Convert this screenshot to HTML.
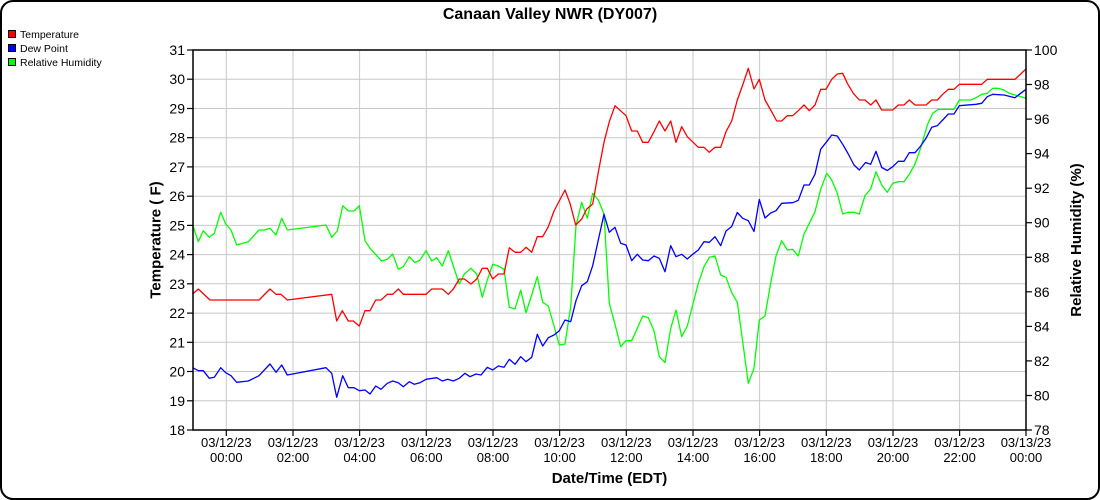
<!DOCTYPE html>
<html>
<head>
<meta charset="utf-8">
<style>
html,body{margin:0;padding:0;background:#fff;}
svg{display:block;}
text{font-family:"Liberation Sans",Arial,sans-serif;fill:#000;}
</style>
</head>
<body>
<svg width="1100" height="500" viewBox="0 0 1100 500" xmlns="http://www.w3.org/2000/svg">
<rect x="1" y="1" width="1098" height="498" rx="12" ry="12" fill="#fff" stroke="#000" stroke-width="2"/>

<text x="550" y="19" font-size="16" font-weight="bold" text-anchor="middle">Canaan Valley NWR (DY007)</text>

<!-- legend -->
<rect x="8.5" y="30.5" width="7" height="7" fill="#ff0000" stroke="#000" stroke-width="1"/>
<text x="20" y="38" font-size="10.5">Temperature</text>
<rect x="8.5" y="44.5" width="7" height="7" fill="#0000ff" stroke="#000" stroke-width="1"/>
<text x="20" y="52" font-size="10.5">Dew Point</text>
<rect x="8.5" y="58.5" width="7" height="7" fill="#00ff00" stroke="#000" stroke-width="1"/>
<text x="20" y="66" font-size="10.5">Relative Humidity</text>

<!-- grid -->
<g stroke="#c8c8c8" stroke-width="1">
<line x1="193" y1="79.2" x2="1026" y2="79.2"/>
<line x1="193" y1="108.5" x2="1026" y2="108.5"/>
<line x1="193" y1="137.7" x2="1026" y2="137.7"/>
<line x1="193" y1="166.9" x2="1026" y2="166.9"/>
<line x1="193" y1="196.2" x2="1026" y2="196.2"/>
<line x1="193" y1="225.4" x2="1026" y2="225.4"/>
<line x1="193" y1="254.6" x2="1026" y2="254.6"/>
<line x1="193" y1="283.8" x2="1026" y2="283.8"/>
<line x1="193" y1="313.1" x2="1026" y2="313.1"/>
<line x1="193" y1="342.3" x2="1026" y2="342.3"/>
<line x1="193" y1="371.5" x2="1026" y2="371.5"/>
<line x1="193" y1="400.8" x2="1026" y2="400.8"/>
<line x1="226.3" y1="50" x2="226.3" y2="430"/>
<line x1="293" y1="50" x2="293" y2="430"/>
<line x1="359.6" y1="50" x2="359.6" y2="430"/>
<line x1="426.3" y1="50" x2="426.3" y2="430"/>
<line x1="493" y1="50" x2="493" y2="430"/>
<line x1="559.6" y1="50" x2="559.6" y2="430"/>
<line x1="626.3" y1="50" x2="626.3" y2="430"/>
<line x1="693" y1="50" x2="693" y2="430"/>
<line x1="759.6" y1="50" x2="759.6" y2="430"/>
<line x1="826.3" y1="50" x2="826.3" y2="430"/>
<line x1="893" y1="50" x2="893" y2="430"/>
<line x1="959.6" y1="50" x2="959.6" y2="430"/>
</g>

<!-- series -->
<g fill="none" stroke-width="1.3" stroke-linejoin="round">
<polyline stroke="#00ff00" points="192.7,225 198.3,241.7 203.3,230.7 209.3,237.3 214.3,233.3 220.7,212.3 225.7,224 231,230 236.7,245 248.3,241.7 259,230 264.3,230 270,228.3 276,235 281.7,218.3 287.3,230 326,225 331.7,237.3 337.3,231 342.7,205.7 348.3,211 354,211 359.3,205.7 365,240.7 370,248.3 381.7,261 387.3,259.3 392.7,254 398.3,269.3 403.3,266.7 409.3,256.7 415,262.7 420,260 426,250.7 431.7,261 436.7,257.7 442.3,266 448.3,250.7 453.3,266 459.3,284 464.3,274 471,268.3 476.7,274 482.3,297.3 487.3,280 492.7,264.3 498.3,266 504,269.3 509.3,307.3 515,309 520.7,290 526,312.7 531.7,295 537.3,276.7 542.7,302.3 548.3,306 554,326 559.3,345 565,344 570.7,306.7 576,225.7 581.7,202.3 587.3,218.3 592.7,193.3 598.3,200 604,214 609.3,303.3 615,324.3 620.7,346.7 626,340.7 631.7,340.7 637.3,328.3 642.7,316 648.3,317.7 654,330.7 659.3,356.7 665,362.7 670.7,328.3 676,310 681.7,336.7 687.3,326 692.7,305 698.3,283.3 704,266.7 709.3,257.3 715,256 720.7,275 726,277.3 731.7,292.7 737.3,302.3 742.7,341.7 748.3,383.3 754,368.3 759.3,320 765,316 770.7,283 776,256 781.7,240.7 787.3,250 792.7,249.3 798.3,256 804,234 809.3,223.3 815,211.7 820.7,189.3 826.7,173.3 831.7,180 837.3,193.3 842.7,214 848.3,212.3 854,212.3 859.3,214 865,195.7 870.7,189 876,171.7 881.7,185 887.3,192.3 892.7,183.3 898.3,181.7 904,181.7 909.3,174.3 915,164 920.7,148 927.3,125 932.7,113.3 938.3,109.3 954,109.3 959.3,100 970.7,100 976,97.7 981.7,94.3 987.3,93.3 992.7,88.3 998.3,88.3 1004,90 1009.3,93.3 1015,95 1026,98.3"/>
<polyline stroke="#0000ff" points="192.7,367.7 198.3,370.7 203.3,370.7 209.3,378.3 214.3,377.3 220.7,367.7 225.7,372.7 231,375.7 236.7,382.3 248.3,381 259,375.7 270,364 276,372.3 281.7,365 287.3,375 326,367.7 331.7,373.3 336.7,397.3 342.7,375.7 348.3,387.7 354,387.7 359.3,390.7 365,390 370,394 375.7,386 381,389.3 387.3,383.3 392.7,381 398.3,382.7 403.3,386.7 409.3,381.7 414.3,384.3 420,382.7 426,379.3 436.7,377.7 442.3,381 447.7,379.3 453.3,381 459.3,378.3 465,373.3 470,376.7 476,374 481,375 487.3,367.3 492.7,370 498.3,366 504,367.3 509.3,359.3 515,364.3 520.7,356.7 526,361.7 531.7,357.3 537.3,334.3 542.7,346 548.3,337.7 554,335 559.3,330.7 565,320 570.7,321.7 576,300.7 581.7,285.7 587.3,281.7 592.7,265.7 598.3,240 604,214.3 609.3,232.3 615,227.3 620.7,243.3 626,245 631.7,260.7 637.3,254.3 642.7,260 648.3,260.7 654,256 659.3,258.3 665,271.7 670.7,245.7 676,256.7 681.7,254.3 687.3,259 692.7,254.3 698.3,250 704,241.7 709.3,242.3 715,236.7 720.7,245.7 726,231 731.7,226.5 737.3,212.5 742.7,218.3 748.3,220.7 754,231.5 759.3,199.5 765,218 770.7,213 776,210.7 781.7,203.3 792.7,202.7 798.3,200.3 804,185 809.3,185 815,174.2 820.7,149.2 826.7,141.7 831.7,135 837.3,136 842.7,144.3 848.3,154 854,165 859.3,170 865.5,162.5 870.7,164.2 876,151.3 881.7,167.5 887.3,170.5 892.7,166.7 898.3,161.3 904,161.3 909.3,152.7 915,152.7 920.7,146 926,138.3 931.7,127.3 937.3,125.7 942.7,120 948.3,114 954,114 959.3,105.7 976,104.3 981.7,103.3 987.3,96.7 992.7,94.3 1004,95 1015,97.7 1020.7,93.3 1026,89.3"/>
<polyline stroke="#ff0000" points="192.7,294 198.3,289 210,300 259,300 270,289 276,294.3 281,294.3 287.3,300 331.7,294.3 336.7,321 342.3,310.7 348.3,321 353.3,321 359.3,326 365,310.7 370,310.7 375.7,300 381,300 387.3,294.3 392.7,294.3 398.3,289 403.3,294.3 426,294.3 431.7,289 442.3,289 448.3,294.3 453.3,289 459.3,279 464.3,279 471,284 476.7,279 482.3,268.3 487.3,268.3 492.7,279 498.3,274 504,274 509.3,247.7 515,252.3 520.7,252.3 526,247.3 531.7,252.3 537.3,236.7 542.7,236.7 548.3,226.7 554,211 565,190 570,203.3 575.7,225 581.7,219 586.7,209 592.7,204 598.3,172.3 604,142.3 609.3,121.7 615,105.7 626,115.7 631.7,131 637.3,131 642.7,142.3 648.3,142.3 654,131.7 659.3,121 665,131 670.7,121 676,142.3 681.7,126.7 687.3,136.7 698.3,147.3 704,147.3 709.3,152.3 715,147.3 720.7,147.3 726,131.7 731.7,121 737.3,100 742.7,85 748.3,68.3 754,89 759.3,79.3 765,100 770.7,110 776.7,121 781.7,121 787.3,115.7 792.7,115.7 798.3,110.7 804,105 809.3,110.7 815,105 820.7,89.3 826,89.3 831.7,79.3 837.3,74 842.7,73.3 847.3,83.3 853.3,93.3 859.3,100 865,100 870.7,105 876,100 881.7,110 892.7,110 898.3,105 904,105 909.3,100 915,105 926,105 931.7,100 937.3,100 942.7,94.3 948.3,89.3 954,89.3 959.3,84.3 981.7,84.3 987.3,79.3 1015,79.3 1026,69"/>
</g>

<!-- axes box -->
<rect x="193" y="50" width="833" height="380" fill="none" stroke="#000" stroke-width="1.5"/>

<!-- left ticks -->
<g stroke="#000" stroke-width="1.2">
<line x1="187" y1="50" x2="193" y2="50"/>
<line x1="187" y1="79.2" x2="193" y2="79.2"/>
<line x1="187" y1="108.5" x2="193" y2="108.5"/>
<line x1="187" y1="137.7" x2="193" y2="137.7"/>
<line x1="187" y1="166.9" x2="193" y2="166.9"/>
<line x1="187" y1="196.2" x2="193" y2="196.2"/>
<line x1="187" y1="225.4" x2="193" y2="225.4"/>
<line x1="187" y1="254.6" x2="193" y2="254.6"/>
<line x1="187" y1="283.8" x2="193" y2="283.8"/>
<line x1="187" y1="313.1" x2="193" y2="313.1"/>
<line x1="187" y1="342.3" x2="193" y2="342.3"/>
<line x1="187" y1="371.5" x2="193" y2="371.5"/>
<line x1="187" y1="400.8" x2="193" y2="400.8"/>
<line x1="187" y1="430" x2="193" y2="430"/>
</g>
<g font-size="14" text-anchor="end">
<text x="185" y="55">31</text>
<text x="185" y="84.2">30</text>
<text x="185" y="113.5">29</text>
<text x="185" y="142.7">28</text>
<text x="185" y="171.9">27</text>
<text x="185" y="201.2">26</text>
<text x="185" y="230.4">25</text>
<text x="185" y="259.6">24</text>
<text x="185" y="288.8">23</text>
<text x="185" y="318.1">22</text>
<text x="185" y="347.3">21</text>
<text x="185" y="376.5">20</text>
<text x="185" y="405.8">19</text>
<text x="185" y="435">18</text>
</g>

<!-- right ticks -->
<g stroke="#000" stroke-width="1.2">
<line x1="1026" y1="50" x2="1032" y2="50"/>
<line x1="1026" y1="84.5" x2="1032" y2="84.5"/>
<line x1="1026" y1="119.1" x2="1032" y2="119.1"/>
<line x1="1026" y1="153.6" x2="1032" y2="153.6"/>
<line x1="1026" y1="188.2" x2="1032" y2="188.2"/>
<line x1="1026" y1="222.7" x2="1032" y2="222.7"/>
<line x1="1026" y1="257.3" x2="1032" y2="257.3"/>
<line x1="1026" y1="291.8" x2="1032" y2="291.8"/>
<line x1="1026" y1="326.4" x2="1032" y2="326.4"/>
<line x1="1026" y1="360.9" x2="1032" y2="360.9"/>
<line x1="1026" y1="395.5" x2="1032" y2="395.5"/>
<line x1="1026" y1="430" x2="1032" y2="430"/>
</g>
<g font-size="14" text-anchor="start">
<text x="1034" y="55">100</text>
<text x="1034" y="89.5">98</text>
<text x="1034" y="124.1">96</text>
<text x="1034" y="158.6">94</text>
<text x="1034" y="193.2">92</text>
<text x="1034" y="227.7">90</text>
<text x="1034" y="262.3">88</text>
<text x="1034" y="296.8">86</text>
<text x="1034" y="331.4">84</text>
<text x="1034" y="365.9">82</text>
<text x="1034" y="400.5">80</text>
<text x="1034" y="435">78</text>
</g>

<!-- x ticks -->
<g stroke="#000" stroke-width="1.2">
<line x1="226.3" y1="430" x2="226.3" y2="436"/>
<line x1="293" y1="430" x2="293" y2="436"/>
<line x1="359.6" y1="430" x2="359.6" y2="436"/>
<line x1="426.3" y1="430" x2="426.3" y2="436"/>
<line x1="493" y1="430" x2="493" y2="436"/>
<line x1="559.6" y1="430" x2="559.6" y2="436"/>
<line x1="626.3" y1="430" x2="626.3" y2="436"/>
<line x1="693" y1="430" x2="693" y2="436"/>
<line x1="759.6" y1="430" x2="759.6" y2="436"/>
<line x1="826.3" y1="430" x2="826.3" y2="436"/>
<line x1="893" y1="430" x2="893" y2="436"/>
<line x1="959.6" y1="430" x2="959.6" y2="436"/>
<line x1="1026" y1="430" x2="1026" y2="436"/>
</g>
<g font-size="13" text-anchor="middle">
<text x="226.3" y="447">03/12/23</text><text x="226.3" y="462">00:00</text>
<text x="293" y="447">03/12/23</text><text x="293" y="462">02:00</text>
<text x="359.6" y="447">03/12/23</text><text x="359.6" y="462">04:00</text>
<text x="426.3" y="447">03/12/23</text><text x="426.3" y="462">06:00</text>
<text x="493" y="447">03/12/23</text><text x="493" y="462">08:00</text>
<text x="559.6" y="447">03/12/23</text><text x="559.6" y="462">10:00</text>
<text x="626.3" y="447">03/12/23</text><text x="626.3" y="462">12:00</text>
<text x="693" y="447">03/12/23</text><text x="693" y="462">14:00</text>
<text x="759.6" y="447">03/12/23</text><text x="759.6" y="462">16:00</text>
<text x="826.3" y="447">03/12/23</text><text x="826.3" y="462">18:00</text>
<text x="893" y="447">03/12/23</text><text x="893" y="462">20:00</text>
<text x="959.6" y="447">03/12/23</text><text x="959.6" y="462">22:00</text>
<text x="1026" y="447">03/13/23</text><text x="1026" y="462">00:00</text>
</g>

<!-- axis titles -->
<text x="609.5" y="483" font-size="15" font-weight="bold" text-anchor="middle">Date/Time (EDT)</text>
<text transform="translate(160.5,240) rotate(-90)" font-size="15" font-weight="bold" text-anchor="middle">Temperature ( F)</text>
<text transform="translate(1081,240) rotate(-90)" font-size="15" font-weight="bold" text-anchor="middle">Relative Humidity (%)</text>
</svg>
</body>
</html>
